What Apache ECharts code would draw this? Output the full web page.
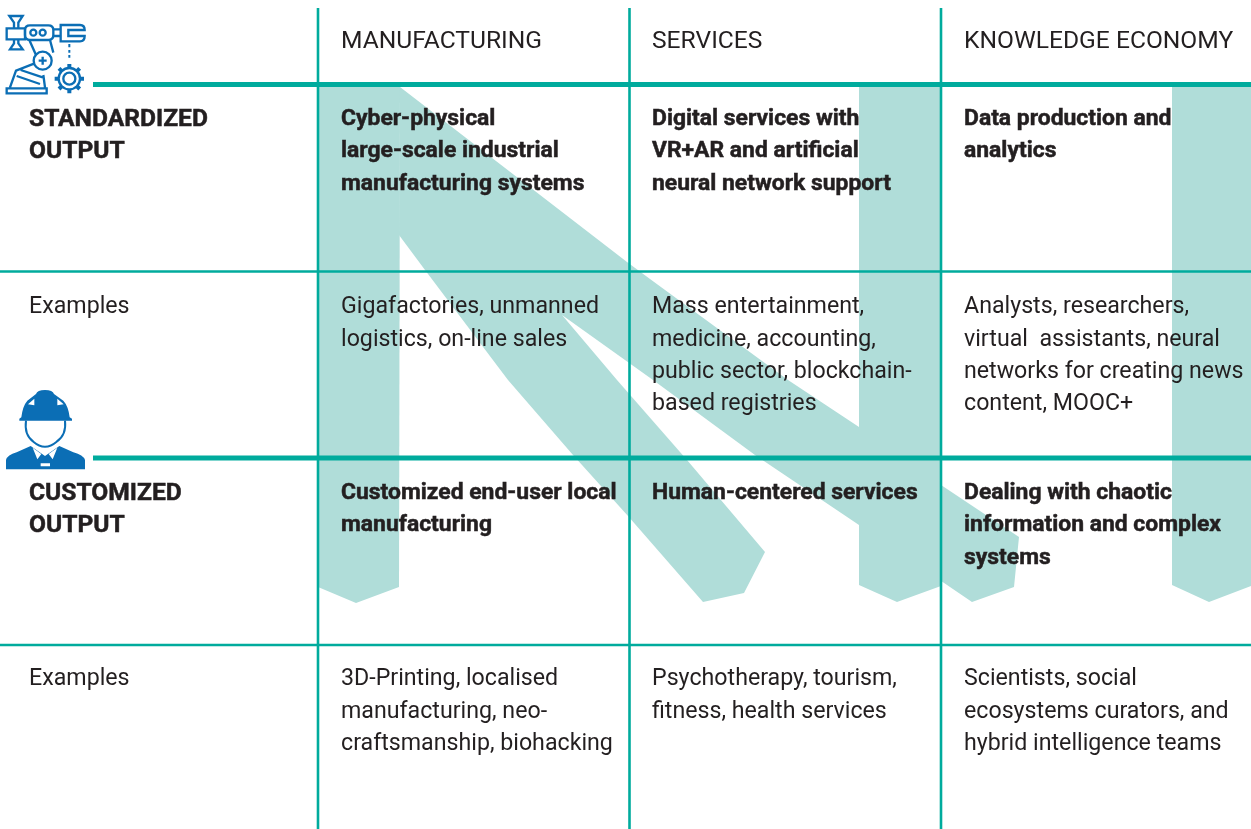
<!DOCTYPE html>
<html>
<head>
<meta charset="utf-8">
<title>Output types by sector</title>
<script src="https://cdn.jsdelivr.net/npm/echarts@6/dist/echarts.min.js"></script>
<style>
html,body{margin:0;padding:0;background:#fff;}
#main{width:1251px;height:829px;}
</style>
</head>
<body>
<div id="main"></div>
<script>
// table content
var columns = ['MANUFACTURING', 'SERVICES', 'KNOWLEDGE ECONOMY'];
var rowHeads = [
	['STANDARDIZED', 'OUTPUT'],
	['Examples'],
	['CUSTOMIZED', 'OUTPUT'],
	['Examples']
];
var rowBold = [true, false, true, false];
var standardized = [
	['Cyber-physical', 'large-scale industrial', 'manufacturing systems'],
	['Digital services with', 'VR+AR and artificial', 'neural network support'],
	['Data production and', 'analytics']
];
var standardizedExamples = [
	['Gigafactories, unmanned', 'logistics, on-line sales'],
	['Mass entertainment,', 'medicine, accounting,', 'public sector, blockchain-', 'based registries'],
	['Analysts, researchers,', 'virtual  assistants, neural', 'networks for creating news', 'content, MOOC+']
];
var customized = [
	['Customized end-user local', 'manufacturing'],
	['Human-centered services'],
	['Dealing with chaotic', 'information and complex', 'systems']
];
var customizedExamples = [
	['3D-Printing, localised', 'manufacturing, neo-', 'craftsmanship, biohacking'],
	['Psychotherapy, tourism,', 'fitness, health services'],
	['Scientists, social', 'ecosystems curators, and', 'hybrid intelligence teams']
];

// grid of the table
var textX = [29, 341, 652, 964];
var rowY = [119.5, 307.5, 493.5, 679.5];
var headerY = 42;
var lineH = 32.2;
var vLines = [318, 629.5, 941];
var thinRows = [271.5, 645];
var thickRows = [84.5, 458];

// the pale "N" shapes behind the table
var bands = [
	[[318,87],[400,87],[399,587],[356,603],[318,587]],
	[[400,87],[627,262],[650,279],[788,380],[859,427],[941,485],[1019,537],[1014,587],[972,602],[859,525],[755,455],[653,380],[562,315],[617,380],[687,460],[765,552],[744,593],[703,602],[628,516],[573,455],[508,380],[425,270],[399,235]],
	[[859,87],[941,87],[941,586],[897,602],[859,585]],
	[[1172,87],[1251,87],[1251,586],[1209,602],[1172,585]]
];

var TEAL = '#00ab9d';
var PALE = '#b0ddd9';
var BLUE = '#0b6eb5';
var INK = '#231f20';
var FONT = 'Roboto';

// flat list of text lines
var texts = [];
function addLines(x, y, lines, bold, upper){
	for(var i=0;i<lines.length;i++){
		texts.push({x:x, y:y+i*lineH, text:lines[i], bold:bold, upper:upper});
	}
}
function collectTexts(){
	for(var c=0;c<columns.length;c++){
		texts.push({x:textX[c+1], y:headerY, text:columns[c], bold:false, upper:true});
	}
	var rows = [standardized, standardizedExamples, customized, customizedExamples];
	for(var r=0;r<rows.length;r++){
		addLines(textX[0], rowY[r], rowHeads[r], rowBold[r], rowBold[r]);
		for(var k=0;k<rows[r].length;k++){
			addLines(textX[k+1], rowY[r], rows[r][k], rowBold[r], false);
		}
	}
}
collectTexts();

function renderBand(params, api){
	var pts = bands[params.dataIndex].map(function(p){ return api.coord(p); });
	return {type:'polygon', shape:{points:pts}, style:{fill:PALE}};
}
function renderVLine(params, api){
	var a = api.coord([api.value(0), 8]);
	var b = api.coord([api.value(0), 829]);
	return {type:'line', shape:{x1:a[0],y1:a[1],x2:b[0],y2:b[1]}, style:{stroke:TEAL, lineWidth:2.6}};
}
function renderHLine(params, api){
	var a = api.coord([api.value(0), api.value(1)]);
	var b = api.coord([1251, api.value(1)]);
	return {type:'line', shape:{x1:a[0],y1:a[1],x2:b[0],y2:b[1]}, style:{stroke:TEAL, lineWidth:api.value(2)}};
}
function renderText(params, api){
	var t = texts[params.dataIndex];
	var p = api.coord([t.x, t.y]);
	var size = t.upper ? 24.6 : (t.bold ? 22.9 : 23.2);
	return {type:'text', style:{
		x:p[0], y:p[1], text:t.text, fill:INK, align:'left', verticalAlign:'middle',
		stroke:t.bold ? INK : 'none', lineWidth:t.bold ? 0.5 : 0,
		fontFamily:FONT, fontSize:size, fontWeight:t.bold ? 700 : 400
	}};
}

var hData = [];
thinRows.forEach(function(y){ hData.push([0, y, 2.6]); });
thickRows.forEach(function(y){ hData.push([93, y, 5]); });

// robot arm icon, drawn in 3x units
var robot = [
	{d:'M20 85H75V118H20Z M28 48H68L55 68V85H42V68Z M42 118V130L30 148H68L55 130V118Z', w:7},
	{d:'M90 76H145Q160 76 160 90V105Q160 120 145 120H90Q75 120 75 105V90Q75 76 90 76Z', w:7},
	{d:'M109 98A9 9 0 1 1 91 98A9 9 0 1 1 109 98Z M137 98A9 9 0 1 1 119 98A9 9 0 1 1 137 98Z', w:7},
	{d:'M160 88H182 M160 108H182 M182 75H240Q254 75 254 90H205V108H254Q254 124 240 124H182Z', w:7},
	{d:'M208 132V142 M208 150V158 M208 165V173', w:6},
	{d:'M88 120L108 165 M150 120L160 158', w:7},
	{d:'M155 182A27 27 0 1 1 101 182A27 27 0 1 1 155 182Z M128 170V194 M116 182H140', w:7},
	{d:'M20 280V265H140V280Z M30 262L48 212L104 190 M135 262L130 225 M50 228L120 252 M62 210L128 232', w:7},
	{d:'M240 236A32 32 0 1 1 176 236A32 32 0 1 1 240 236Z M226 236A18 18 0 1 1 190 236A18 18 0 1 1 226 236Z', w:7},
	{d:'M208 192V204 M208 268V280 M164 236H176 M240 236H252 M177 205L186 214 M239 205L230 214 M177 267L186 258 M239 267L230 258', w:12}
];
// worker icon, same units
var worker = [
	{d:'M58 122V116L64 112Q68 78 82 62L108 42Q112 30 135 30Q158 30 162 42L190 62Q205 78 209 112L216 116V122Z', fill:BLUE},
	{d:'M84 73L103 56V76Z M172 56L191 73L172 76Z', fill:'#fff'},
	{d:'M78 122Q72 165 100 185Q135 215 170 185Q200 165 195 122', w:6},
	{d:'M18 268V240Q22 225 50 217L92 198L135 228L178 198L220 217Q250 225 255 240V268Z', fill:BLUE},
	{d:'M98 203L124 222L112 238Z M172 203L146 222L158 238Z M122 250H150V259H122Z', fill:'#fff'}
];
var icons = [robot, worker];
function renderIcon(params, api){
	var p = api.coord([api.value(0), api.value(1)]);
	return {
		type:'group', x:p[0], y:p[1], scaleX:1/3, scaleY:1/3,
		children:icons[params.dataIndex].map(function(part){
			return {
				type:'path',
				shape:{pathData:part.d},
				style:{fill:part.fill || 'none', stroke:part.fill ? 'none' : BLUE, lineWidth:part.w || 6}
			};
		})
	};
}

var option = {
	animation:false,
	backgroundColor:'#fff',
	grid:{left:0, right:0, top:0, bottom:0},
	xAxis:{type:'value', min:0, max:1251, show:false},
	yAxis:{type:'value', min:0, max:829, inverse:true, show:false},
	series:[
		{type:'custom', silent:true, clip:false, z:1, renderItem:renderBand, data:bands.map(function(b){ return b[0]; })},
		{type:'custom', silent:true, clip:false, z:2, renderItem:renderVLine, data:vLines.map(function(x){ return [x, 8]; })},
		{type:'custom', silent:true, clip:false, z:3, renderItem:renderHLine, data:hData},
		{type:'custom', silent:true, clip:false, z:4, renderItem:renderIcon, data:[[0, 0], [0, 380]]},
		{type:'custom', silent:true, clip:false, z:5, renderItem:renderText, data:texts.map(function(t){ return [t.x, t.y]; })}
	]
};
var chart = echarts.init(document.getElementById('main'));
chart.setOption(option);
</script>
</body>
</html>
